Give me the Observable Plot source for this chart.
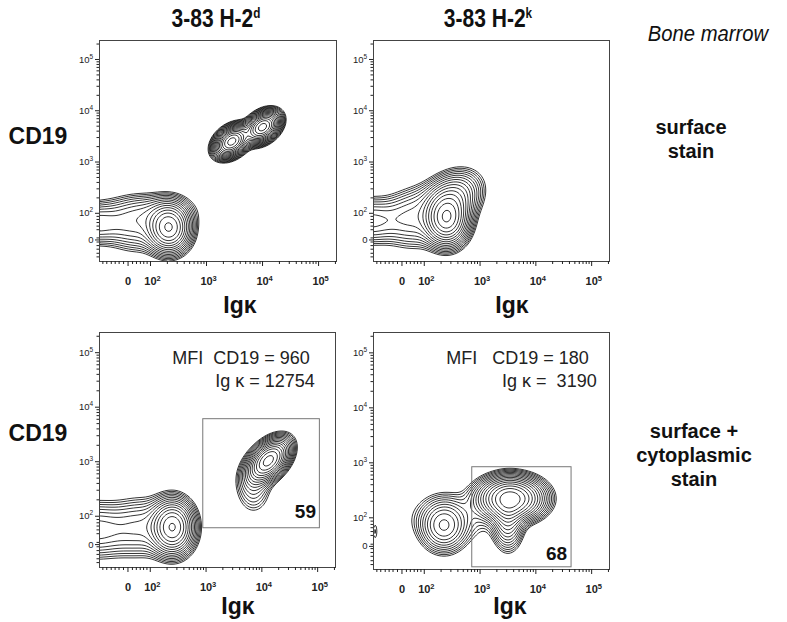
<!DOCTYPE html>
<html><head><meta charset="utf-8">
<script src="https://cdn.jsdelivr.net/npm/d3@7"></script>
<script src="https://cdn.jsdelivr.net/npm/@observablehq/plot@0.6"></script>
<style>
body{margin:0;background:#fff;font-family:"Liberation Sans",Arial,sans-serif;}
#fig{position:relative;width:787px;height:622px;overflow:hidden;background:#fff}
.t{position:absolute;white-space:nowrap;color:#111;transform:translate(-50%,-50%);line-height:1}
.col{font-weight:bold;font-size:25px;transform:translate(-50%,-50%) scaleX(0.84)}
.col sup{font-size:14px;vertical-align:9px;line-height:0}
.bm{font-style:italic;font-size:22px;transform:translate(-50%,-50%) scaleX(0.92)}
.ax{font-weight:bold;font-size:23px}
.row{font-weight:bold;font-size:20px;text-align:center;line-height:24px}
</style></head>
<body><div id="fig"></div>
<script>
// ---- axis geometry (decade units: 2 = 10^2, ...) ----
const xDomain = [1.09, 5.32];
const yDomain = [1.06, 5.37];
const xTickPos = [1.6, 2, 3, 4, 5];
const yTickPos = [1.48, 2, 3, 4, 5];
const tickBase = ["0", "10", "10", "10", "10"];
const tickExp = ["", "2", "3", "4", "5"];
const minorMultipliers = [2, 3, 4, 5, 6, 7, 8, 9];
const minorDecades = [2, 3, 4, 5];
const linearMinor = [1.15, 1.22, 1.3, 1.37, 1.44, 1.52, 1.68, 1.75, 1.82, 1.88, 1.94];

// ---- population components (centre, spread, tilt, weight) ----
const tlComponents = [
  {x: 2.33, y: 1.72, sx: 0.2, sy: 0.25, r: 0, w: 1},
  {x: 1.0, y: 1.8, sx: 0.35, sy: 0.22, r: 0, w: 0.22},
  {x: 1.75, y: 1.75, sx: 0.3, sy: 0.28, r: 0, w: 0.16},
  {x: 2.0, y: 2.05, sx: 0.45, sy: 0.2, r: 0, w: 0.1},
  {x: 3.45, y: 3.4, sx: 0.15, sy: 0.15, r: 0.35, w: 1.8},
  {x: 4.0, y: 3.68, sx: 0.15, sy: 0.15, r: 0.35, w: 1.8}
];
const trComponents = [
  {x: 2.4, y: 1.9, sx: 0.2, sy: 0.27, r: 0, w: 1.2},
  {x: 2.55, y: 2.3, sx: 0.25, sy: 0.27, r: 0.2, w: 0.35},
  {x: 1.0, y: 1.85, sx: 0.35, sy: 0.25, r: 0, w: 0.2},
  {x: 1.8, y: 1.85, sx: 0.3, sy: 0.3, r: 0, w: 0.16},
  {x: 2.1, y: 2.3, sx: 0.45, sy: 0.28, r: 0.55, w: 0.07}
];
const blComponents = [
  {x: 2.4, y: 1.8, sx: 0.2, sy: 0.26, r: 0, w: 1},
  {x: 1.0, y: 1.75, sx: 0.45, sy: 0.28, r: 0, w: 0.22},
  {x: 1.85, y: 1.8, sx: 0.3, sy: 0.3, r: 0, w: 0.15},
  {x: 4.12, y: 3.02, sx: 0.19, sy: 0.2, r: 0.45, w: 1.4},
  {x: 3.85, y: 2.55, sx: 0.18, sy: 0.28, r: 0, w: 0.12}
];
const brComponents = [
  {x: 3.55, y: 2.35, sx: 0.3, sy: 0.2, r: 0, w: 1.4},
  {x: 3.5, y: 2.0, sx: 0.15, sy: 0.3, r: 0, w: 0.35},
  {x: 2.35, y: 1.85, sx: 0.22, sy: 0.25, r: 0, w: 0.35},
  {x: 2.5, y: 2.0, sx: 0.5, sy: 0.28, r: 0, w: 0.07},
  {x: 1.12, y: 1.75, sx: 0.04, sy: 0.15, r: 0, w: 0.045}
];

// ---- gates and annotations ----
const blGate = [{x1: 2.95, x2: 5.04, y1: 1.78, y2: 3.78}];
const brGate = [{x1: 2.86, x2: 4.64, y1: 1.1, y2: 2.92}];
const blGateLabel = [{x: 4.97, y: 2.08, text: "59"}];
const brGateLabel = [{x: 4.56, y: 1.35, text: "68"}];
const blMFI = [
  {x: 4.86, y: 4.9, text: "MFI\u00a0\u00a0CD19 = 960"},
  {x: 4.95, y: 4.48, text: "Ig\u00a0κ = 12754"}
];
const brMFI = [
  {x: 4.95, y: 4.9, text: "MFI\u00a0\u00a0\u00a0CD19 = 180"},
  {x: 5.09, y: 4.48, text: "Ig\u00a0κ =\u00a0\u00a03190"}
];

const thresholds = d3.range(17).map(k => 0.035 * Math.pow(1.27, k));
const xLabels = xTickPos.map((p, i) => ({p, base: tickBase[i], exp: tickExp[i]}));
const yLabels = yTickPos.map((p, i) => ({p, base: tickBase[i], exp: tickExp[i]}));
const logMinor = minorDecades.flatMap(k => minorMultipliers.map(m => k + Math.log10(m)));
const xMinor = linearMinor.concat(logMinor).filter(d => d < xDomain[1]);
const yMinor = linearMinor.concat(logMinor).filter(d => d < yDomain[1] && d > yDomain[0]);

function mixture(comps) {
  return (x, y) => {
    let s = 0;
    for (const c of comps) {
      const dx = (x - c.x) / c.sx, dy = (y - c.y) / c.sy, r = c.r;
      s += c.w * Math.exp(-(dx * dx - 2 * r * dx * dy + dy * dy) / (2 * (1 - r * r)));
    }
    return s;
  };
}

const fig = document.getElementById("fig");
const ML = 45, MT = 10, MR = 10, MB = 45;
const tickFont = "Liberation Sans, Arial, sans-serif";

function drawPanel(p) {
  const marks = [
    Plot.contour({
      x1: xDomain[0], x2: xDomain[1], y1: yDomain[0], y2: yDomain[1],
      value: mixture(p.comps), thresholds, pixelSize: 1,
      stroke: "#111", fill: "none", strokeWidth: 0.85
    }),
    Plot.frame({stroke: "#444", strokeWidth: 1}),
    Plot.axisX({ticks: xTickPos, tickFormat: d => xLabels.find(l => l.p === d).base, tickSize: 5, tickPadding: 11, fontSize: 11, fontWeight: "bold", fontFamily: tickFont, label: null}),
    Plot.axisX({ticks: xMinor, tickFormat: () => "", tickSize: 3, label: null}),
    Plot.text(xLabels.filter(l => l.exp), {x: "p", text: "exp", frameAnchor: "bottom", dy: 19, dx: 6, textAnchor: "start", fontSize: 7.5, fontWeight: "bold", fontFamily: tickFont}),
    Plot.axisY({ticks: yTickPos, tickFormat: () => "", tickSize: 4, label: null}),
    Plot.axisY({ticks: yMinor, tickFormat: () => "", tickSize: 2.5, label: null}),
    Plot.text(yLabels.filter(l => l.exp), {y: "p", text: "base", frameAnchor: "left", dx: -10, textAnchor: "end", fontSize: 9.5, fontFamily: tickFont}),
    Plot.text(yLabels.filter(l => l.exp), {y: "p", text: "exp", frameAnchor: "left", dx: -10, dy: -3, textAnchor: "start", fontSize: 6.5, fontFamily: tickFont}),
    Plot.text(yLabels.filter(l => !l.exp), {y: "p", text: "base", frameAnchor: "left", dx: -6, textAnchor: "end", fontSize: 9.5, fontFamily: tickFont})
  ];
  if (p.gate) {
    marks.push(Plot.rect(p.gate, {x1: "x1", x2: "x2", y1: "y1", y2: "y2", stroke: "#777", fill: "none", strokeWidth: 1}));
    marks.push(Plot.text(p.gateLabel, {x: "x", y: "y", text: "text", textAnchor: "end", fontSize: 19, fontWeight: "bold", fill: "#111"}));
    marks.push(Plot.text(p.mfi, {x: "x", y: "y", text: "text", textAnchor: "end", fontSize: 18, fill: "#222"}));
  }
  const chart = Plot.plot({
    width: ML + p.w + MR, height: MT + p.h + MB,
    marginLeft: ML, marginRight: MR, marginTop: MT, marginBottom: MB,
    style: {fontFamily: "Liberation Sans, Arial, sans-serif", background: "transparent", overflow: "visible", color: "#222"},
    x: {domain: xDomain},
    y: {domain: yDomain},
    marks
  });
  chart.style.position = "absolute";
  chart.style.left = (p.left - ML) + "px";
  chart.style.top = (p.top - MT) + "px";
  fig.appendChild(chart);
}

drawPanel({left: 99, top: 40, w: 237, h: 221, comps: tlComponents});
drawPanel({left: 373, top: 40, w: 236, h: 221, comps: trComponents});
drawPanel({left: 99, top: 332, w: 236, h: 235, comps: blComponents, gate: blGate, gateLabel: blGateLabel, mfi: blMFI});
drawPanel({left: 373, top: 332, w: 236, h: 237, comps: brComponents, gate: brGate, gateLabel: brGateLabel, mfi: brMFI});

// ---- figure texts ----
const texts = [
  {cls: "col", x: 216, y: 18, html: "3-83 H-2<sup>d</sup>"},
  {cls: "col", x: 488, y: 18, html: "3-83 H-2<sup>k</sup>"},
  {cls: "bm", x: 708, y: 34, html: "Bone marrow"},
  {cls: "ax", x: 38, y: 136, html: "CD19"},
  {cls: "ax", x: 38, y: 433, html: "CD19"},
  {cls: "ax", x: 240, y: 305, html: "Igκ"},
  {cls: "ax", x: 512, y: 305, html: "Igκ"},
  {cls: "ax", x: 238, y: 606, html: "Igκ"},
  {cls: "ax", x: 510, y: 606, html: "Igκ"},
  {cls: "row", x: 691, y: 139, html: "surface<br>stain"},
  {cls: "row", x: 694, y: 455, html: "surface +<br>cytoplasmic<br>stain"}
];
for (const t of texts) {
  const d = document.createElement("div");
  d.className = "t " + t.cls;
  d.style.left = t.x + "px";
  d.style.top = t.y + "px";
  d.innerHTML = t.html;
  fig.appendChild(d);
}
</script>
</body></html>
